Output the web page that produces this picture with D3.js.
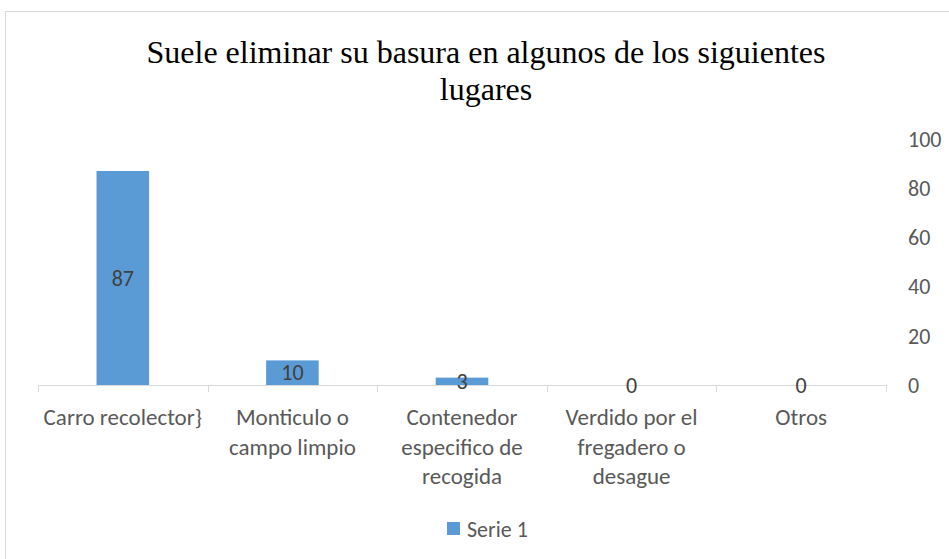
<!DOCTYPE html>
<html>
<head>
<meta charset="utf-8">
<script src="https://cdn.jsdelivr.net/npm/d3@7"></script>
<style>
  body { margin: 0; background: #fff; }
  svg { display: block; }
</style>
</head>
<body>
<div id="chart"></div>
<script>
// data
var categories = [
    ["Carro recolector}"],
    ["Monticulo o", "campo limpio"],
    ["Contenedor", "especifico de", "recogida"],
    ["Verdido por el", "fregadero o", "desague"],
    ["Otros"]
];
var values = [87, 10, 3, 0, 0];
var yTicks = [0, 20, 40, 60, 80, 100];
var seriesName = "Serie 1";
var title = ["Suele eliminar su basura en algunos de los siguientes", "lugares"];

var W = 949, H = 559;
var margin = { top: 139, right: 63, bottom: 174, left: 38 },
    width = W - margin.left - margin.right,
    height = H - margin.top - margin.bottom;

var uiFont = "Carlito, Calibri, Lato, sans-serif";
var uiSize = "22px";

var svg = d3.select("#chart")
    .append("svg")
    .attr("width", W)
    .attr("height", H);

// chart frame
svg.append("rect")
    .attr("x", 5.5)
    .attr("y", 11.5)
    .attr("width", W + 20)
    .attr("height", H + 20)
    .attr("fill", "#fff")
    .attr("stroke", "#d9d9d9");

// title
svg.append("text")
    .attr("x", 486)
    .attr("y", 63)
    .attr("text-anchor", "middle")
    .style("font-family", "'Liberation Serif', 'Times New Roman', serif")
    .style("font-size", "32px")
    .style("fill", "#000")
    .selectAll("tspan")
    .data(title)
    .enter()
    .append("tspan")
    .attr("x", 486)
    .attr("dy", function (d, i) { return i === 0 ? 0 : 37; })
    .text(function (d) { return d; });

var g = svg.append("g")
    .attr("transform", "translate(" + margin.left + "," + margin.top + ")");

var x = d3.scaleBand()
    .domain(d3.range(values.length))
    .range([0, width])
    .paddingInner(0.69)
    .paddingOuter(0.345);

var y = d3.scaleLinear()
    .domain([0, 100])
    .range([height, 0]);

// bars
g.selectAll(".bar")
    .data(values)
    .enter()
    .append("rect")
    .attr("class", "bar")
    .attr("x", function (d, i) { return x(i); })
    .attr("y", function (d) { return y(d); })
    .attr("width", x.bandwidth())
    .attr("height", function (d) { return height - y(d); })
    .attr("fill", "#5b9bd5");

// x axis line and ticks at category boundaries
var step = width / values.length;
g.append("line")
    .attr("x1", 0)
    .attr("x2", width)
    .attr("y1", height + 0.5)
    .attr("y2", height + 0.5)
    .attr("stroke", "#d9d9d9");

g.selectAll(".tick")
    .data(d3.range(values.length + 1))
    .enter()
    .append("line")
    .attr("x1", function (d) { return Math.round(d * step) + 0.5; })
    .attr("x2", function (d) { return Math.round(d * step) + 0.5; })
    .attr("y1", height)
    .attr("y2", height + 7)
    .attr("stroke", "#d9d9d9");

// y axis labels on the right
g.selectAll(".ylab")
    .data(yTicks)
    .enter()
    .append("text")
    .attr("x", width + 22)
    .attr("y", function (d) { return y(d); })
    .attr("dy", "0.35em")
    .style("font-family", uiFont)
    .style("font-size", uiSize)
    .style("fill", "#595959")
    .text(function (d) { return d; });

// data labels
g.selectAll(".vlab")
    .data(values)
    .enter()
    .append("text")
    .attr("x", function (d, i) { return x(i) + x.bandwidth() / 2; })
    .attr("y", function (d) { return (y(d) + height) / 2; })
    .attr("dy", "0.35em")
    .attr("text-anchor", "middle")
    .style("font-family", uiFont)
    .style("font-size", uiSize)
    .style("fill", "#404040")
    .text(function (d) { return d; });

// category labels
var cat = g.selectAll(".cat")
    .data(categories)
    .enter()
    .append("text")
    .attr("text-anchor", "middle")
    .attr("transform", function (d, i) { return "translate(" + (x(i) + x.bandwidth() / 2) + "," + (height + 40) + ")"; })
    .style("font-family", uiFont)
    .style("font-size", "23px")
    .style("fill", "#595959");

cat.selectAll("tspan")
    .data(function (d) { return d; })
    .enter()
    .append("tspan")
    .attr("x", 0)
    .attr("y", function (d, i) { return i * 29.5; })
    .text(function (d) { return d; });

// legend
var legend = svg.append("g")
    .attr("transform", "translate(447,522)");

legend.append("rect")
    .attr("width", 13)
    .attr("height", 13)
    .attr("fill", "#5b9bd5");

legend.append("text")
    .attr("x", 20)
    .attr("y", 7)
    .attr("dy", "0.35em")
    .style("font-family", uiFont)
    .style("font-size", uiSize)
    .style("fill", "#595959")
    .text(seriesName);
</script>
</body>
</html>
